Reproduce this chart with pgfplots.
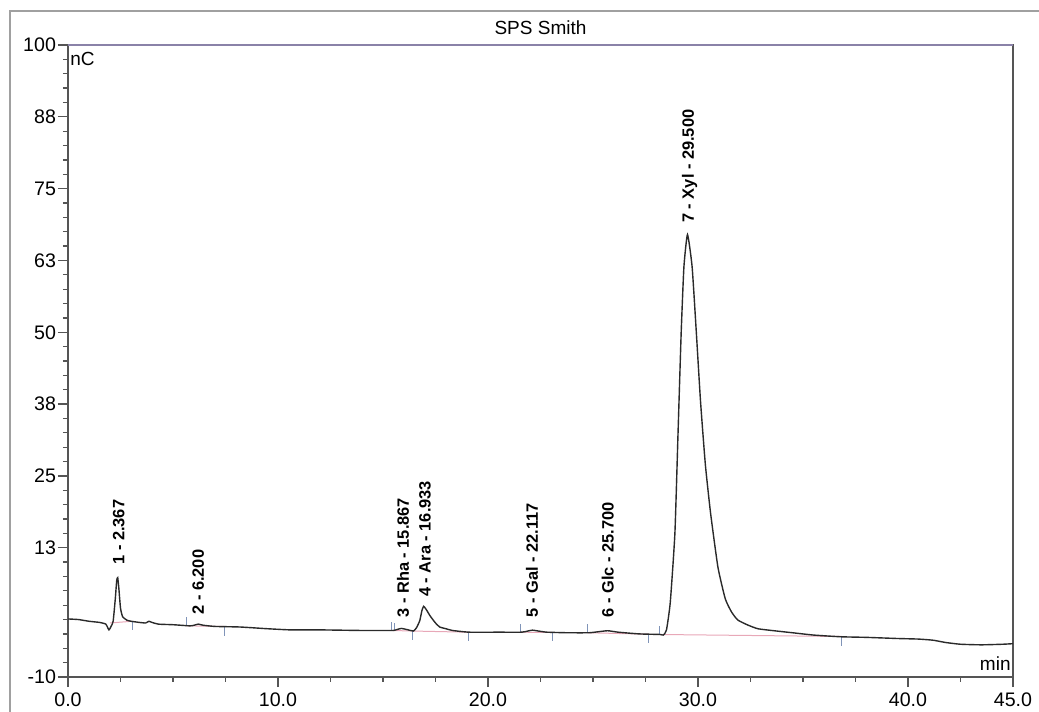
\documentclass[border=0pt]{standalone}
\usepackage{pgfplots}
\pgfplotsset{compat=1.18}
\usepackage{fontspec}
\setmainfont{Liberation Sans}
\definecolor{trace}{HTML}{2A2A2A}
\definecolor{axisgray}{HTML}{555555}
\definecolor{toppurple}{HTML}{8A82A8}
\definecolor{delim}{HTML}{8094B8}
\definecolor{basepink}{HTML}{E8A8B8}
\definecolor{framegray}{HTML}{A0A0A0}
\begin{document}
\begin{tikzpicture}
\path[use as bounding box] (-34pt,-17.5pt) rectangle (485.5pt,338.5pt);
\draw[framegray, line width=0.6pt] (-29pt,-17.5pt) -- (-29pt,333pt) -- (485.5pt,333pt);
\begin{axis}[
  at={(0pt,0pt)}, anchor=south west,
  scale only axis, width=472.5pt, height=316pt,
  xmin=0, xmax=45, ymin=-10, ymax=100,
  axis line style={draw=axisgray, line width=0.7pt},
  tick align=outside, tick pos=left,
  major tick length=5pt, minor tick length=2.5pt,
  tick style={draw=axisgray, line width=0.6pt},
  xtick={0,10,20,30,40,45},
  xticklabels={0.0,10.0,20.0,30.0,40.0,45.0},
  minor xtick={2.5,5,7.5,12.5,15,17.5,22.5,25,27.5,32.5,35,37.5,42.5},
  ytick={-10,12.5,25,37.5,50,62.5,75,87.5,100},
  yticklabels={-10,13,25,38,50,63,75,88,100},
  minor ytick={-7.5,-5,-2.5,0,2.5,5,7.5,10,15,17.5,20,22.5,27.5,30,32.5,35,40,42.5,45,47.5,52.5,55,57.5,60,65,67.5,70,72.5,77.5,80,82.5,85,90,92.5,95,97.5},
  ticklabel style={font=\fontsize{9.8}{11}\selectfont, text=black},
  xticklabel style={yshift=0.5pt},
  yticklabel style={xshift=2.5pt},
  clip=false,
  unbounded coords=jump,
]
% pink integration baselines
\addplot[basepink, line width=0.5pt] coordinates {
 (2.0,-0.6) (3.05,-0.3) (nan,nan)
 (5.65,-1.1) (7.45,-1.2) (nan,nan)
 (15.4,-1.9) (16.4,-2.0) (19.05,-2.2) (nan,nan)
 (21.55,-2.2) (23.05,-2.25) (nan,nan)
 (24.75,-2.3) (27.65,-2.55) (nan,nan)
 (28.15,-2.6) (36.85,-2.95)
};
% peak delimiter marks
\addplot[delim, line width=0.5pt] coordinates {
 (3.05,-0.3) (3.05,-1.8) (nan,nan)
 (5.65,-1.1) (5.65,0.4) (nan,nan)
 (7.45,-1.2) (7.45,-2.9) (nan,nan)
 (15.4,-1.9) (15.4,-0.5) (nan,nan)
 (15.55,-1.9) (15.55,-0.6) (nan,nan)
 (16.4,-2.0) (16.4,-3.5) (nan,nan)
 (19.05,-2.2) (19.05,-3.7) (nan,nan)
 (21.55,-2.2) (21.55,-0.7) (nan,nan)
 (23.05,-2.25) (23.05,-3.8) (nan,nan)
 (24.75,-2.3) (24.75,-0.8) (nan,nan)
 (27.65,-2.55) (27.65,-4.1) (nan,nan)
 (28.15,-2.6) (28.15,-1.1) (nan,nan)
 (36.85,-3.0) (36.85,-4.6)
};
% chromatogram trace
\addplot[trace, line width=0.7pt, smooth, tension=0.3] coordinates {
 (0,0.1) (0.5,0.0) (1.0,-0.3) (1.5,-0.5) (1.8,-0.8) (1.95,-1.8) (2.05,-1.2)
 (2.15,-0.3) (2.25,3.5) (2.32,6.8) (2.367,7.3) (2.42,5.5) (2.5,2.0) (2.6,0.5)
 (2.8,-0.1) (3.0,-0.3) (3.4,-0.5) (3.7,-0.6) (3.85,-0.3) (4.0,-0.5) (4.3,-0.8)
 (5.0,-0.9) (5.8,-1.1) (6.0,-1.0) (6.2,-0.8) (6.45,-1.0) (7.0,-1.2) (8.2,-1.3)
 (9.5,-1.6) (10.6,-1.8) (12.0,-1.8) (13.9,-1.9) (15.0,-1.9) (15.5,-1.9)
 (15.867,-1.55) (16.2,-1.8) (16.45,-2.0) (16.6,-1.4) (16.75,-0.2) (16.85,1.5)
 (16.933,2.3) (17.05,1.8) (17.25,0.6) (17.5,-0.6) (17.7,-1.3) (18.0,-1.6)
 (18.3,-1.9) (19.1,-2.2) (20.5,-2.2) (21.6,-2.2) (21.9,-2.0) (22.117,-1.85)
 (22.4,-2.0) (22.8,-2.2) (23.8,-2.3) (24.8,-2.3) (25.2,-2.15) (25.7,-1.95)
 (26.2,-2.2) (27.2,-2.5) (28.2,-2.6) (28.35,-2.7) (28.5,-1.8) (28.68,3.0)
 (28.9,15) (29.05,32.5) (29.2,50) (29.33,61.4) (29.5,67.0) (29.72,61.4)
 (29.92,50) (30.12,38) (30.35,27) (30.6,18.5) (30.95,9.1) (31.3,3.6) (31.6,1.3)
 (31.9,-0.1) (32.4,-1.0) (32.85,-1.6) (33.5,-1.9) (34.5,-2.3) (35.5,-2.7)
 (36.8,-3.0) (38.0,-3.1) (39.5,-3.3) (40.5,-3.4) (41.2,-3.6) (41.8,-4.0)
 (42.5,-4.3) (43.5,-4.4) (44.5,-4.3) (45.0,-4.2)
};
\draw[toppurple, line width=0.7pt] (rel axis cs:0,1) -- (rel axis cs:1,1);
% peak labels
\tikzset{pk/.style={rotate=90, anchor=west, inner sep=0pt, font=\fontsize{8.2}{10}\selectfont\bfseries}}
\node[pk] at (axis cs:2.42,9.5) {1 - 2.367};
\node[pk] at (axis cs:6.2,0.8) {2 - 6.200};
\node[pk] at (axis cs:15.95,0.3) {3 - Rha - 15.867};
\node[pk] at (axis cs:17.0,3.9) {4 - Ara - 16.933};
\node[pk] at (axis cs:22.1,0.3) {5 - Gal - 22.117};
\node[pk] at (axis cs:25.7,0.3) {6 - Glc - 25.700};
\node[pk] at (axis cs:29.6,69.0) {7 - Xyl - 29.500};
% axis units and title
\node[anchor=west, inner sep=1pt, font=\fontsize{9.5}{11}\selectfont] at (axis cs:0,97.6) {nC};
\node[anchor=east, inner sep=1pt, font=\fontsize{9.5}{11}\selectfont] at (axis cs:45,-7.6) {min};
\node[font=\fontsize{9.5}{11}\selectfont, yshift=8.5pt] at (rel axis cs:0.5,1) {SPS Smith};
\end{axis}
\end{tikzpicture}
\end{document}
